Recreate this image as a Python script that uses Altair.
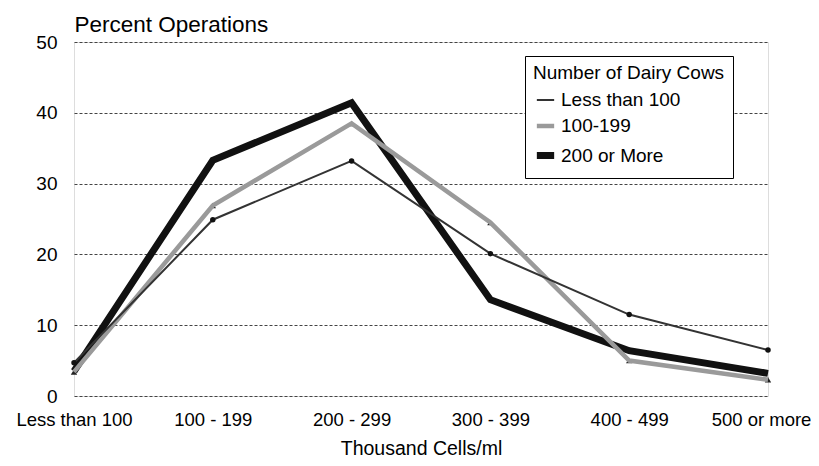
import altair as alt
import pandas as pd

categories = ["Less than 100", "100 - 199", "200 - 299", "300 - 399", "400 - 499", "500 or more"]
series_names = ["Less than 100", "100-199", "200 or More"]
less_than_100 = [4.7, 24.9, 33.2, 20.1, 11.5, 6.5]
cows_100_199 = [3.4, 26.9, 38.5, 24.5, 5.0, 2.3]
cows_200_more = [3.5, 33.3, 41.4, 13.6, 6.4, 3.2]

colors = ["#333333", "#9a9a9a", "#111111"]
widths = [2, 7, 7]

rows = []
for name, vals in zip(series_names, [less_than_100, cows_100_199, cows_200_more]):
    for c, v in zip(categories, vals):
        rows.append({"cat": c, "series": name, "value": v})
df = pd.DataFrame(rows)

FONT = "Liberation Sans"

x = alt.X("cat:N", sort=categories,
          scale=alt.Scale(type="point", padding=0),
          axis=alt.Axis(title="Thousand Cells/ml", labelAngle=0, ticks=False,
                        domain=False, grid=False, labelPadding=14,
                        labelFontSize=18.5, titleFontSize=19.5, titlePadding=11,
                        labelOffset={"condition": {"test": "datum.label == '500 or more'",
                                                   "value": -7}, "value": 0},
                        labelColor="#000", titleColor="#000", titleFontWeight="normal",
                        labelFont=FONT, titleFont=FONT, labelFlush=False))
y = alt.Y("value:Q", scale=alt.Scale(domain=[0, 50], nice=False),
          axis=alt.Axis(title="Percent Operations", values=[0, 10, 20, 30, 40, 50],
                        ticks=False, domain=False, labelPadding=17,
                        labelFontSize=19, labelColor="#000", labelFont=FONT,
                        titleFontSize=22.5, titleFont=FONT, titleColor="#000",
                        titleFontWeight="normal", titleAngle=0, titleAlign="left",
                        titleBaseline="alphabetic", titleX=0, titleY=-11,
                        grid=True, gridColor="#444", gridDash=[3, 2], gridWidth=1))

color = alt.Color("series:N", scale=alt.Scale(domain=series_names, range=colors),
                  legend=alt.Legend(title="Number of Dairy Cows", orient="none",
                                    legendX=451, legendY=14, symbolType="stroke",
                                    symbolSize=300, titleFontSize=19, labelFontSize=19,
                                    titleFont=FONT, labelFont=FONT, titleLimit=400,
                                    labelLimit=400,
                                    titleFontWeight="normal", titleColor="#000",
                                    labelColor="#000", strokeColor="#000",
                                    fillColor="white", padding=8, rowPadding=5,
                                    titlePadding=7, labelOffset=3))
sw = alt.StrokeWidth("series:N", scale=alt.Scale(domain=series_names, range=widths),
                     legend=alt.Legend(title="Number of Dairy Cows"))

base = alt.Chart(df)

tri = base.transform_filter(alt.datum.series == "100-199").mark_point(
    shape="triangle-up", filled=True, size=40, color="#222", opacity=1
).encode(x=x, y=alt.Y("value:Q", scale=alt.Scale(domain=[0, 50], nice=False)))

def line_for(name):
    return base.transform_filter(alt.datum.series == name).mark_line(
        strokeJoin="miter", strokeCap="butt"
    ).encode(x=x, y=y, color=color, strokeWidth=sw)

dots = base.transform_filter(alt.datum.series == "Less than 100").mark_circle(
    size=30, color="#111", opacity=1
).encode(x=x, y=alt.Y("value:Q", scale=alt.Scale(domain=[0, 50], nice=False)))

chart = alt.layer(
    tri, line_for("200 or More"), line_for("100-199"), line_for("Less than 100"), dots
).properties(
    width=694, height=354,
    autosize=alt.AutoSizeParams(type="none"),
    padding={"left": 66, "top": 34, "right": 43, "bottom": 62}
).configure_view(
    stroke="#000", strokeWidth=1.5
).configure(background="white")

chart.save("out.html", embed_options={"renderer": "svg", "actions": False})
